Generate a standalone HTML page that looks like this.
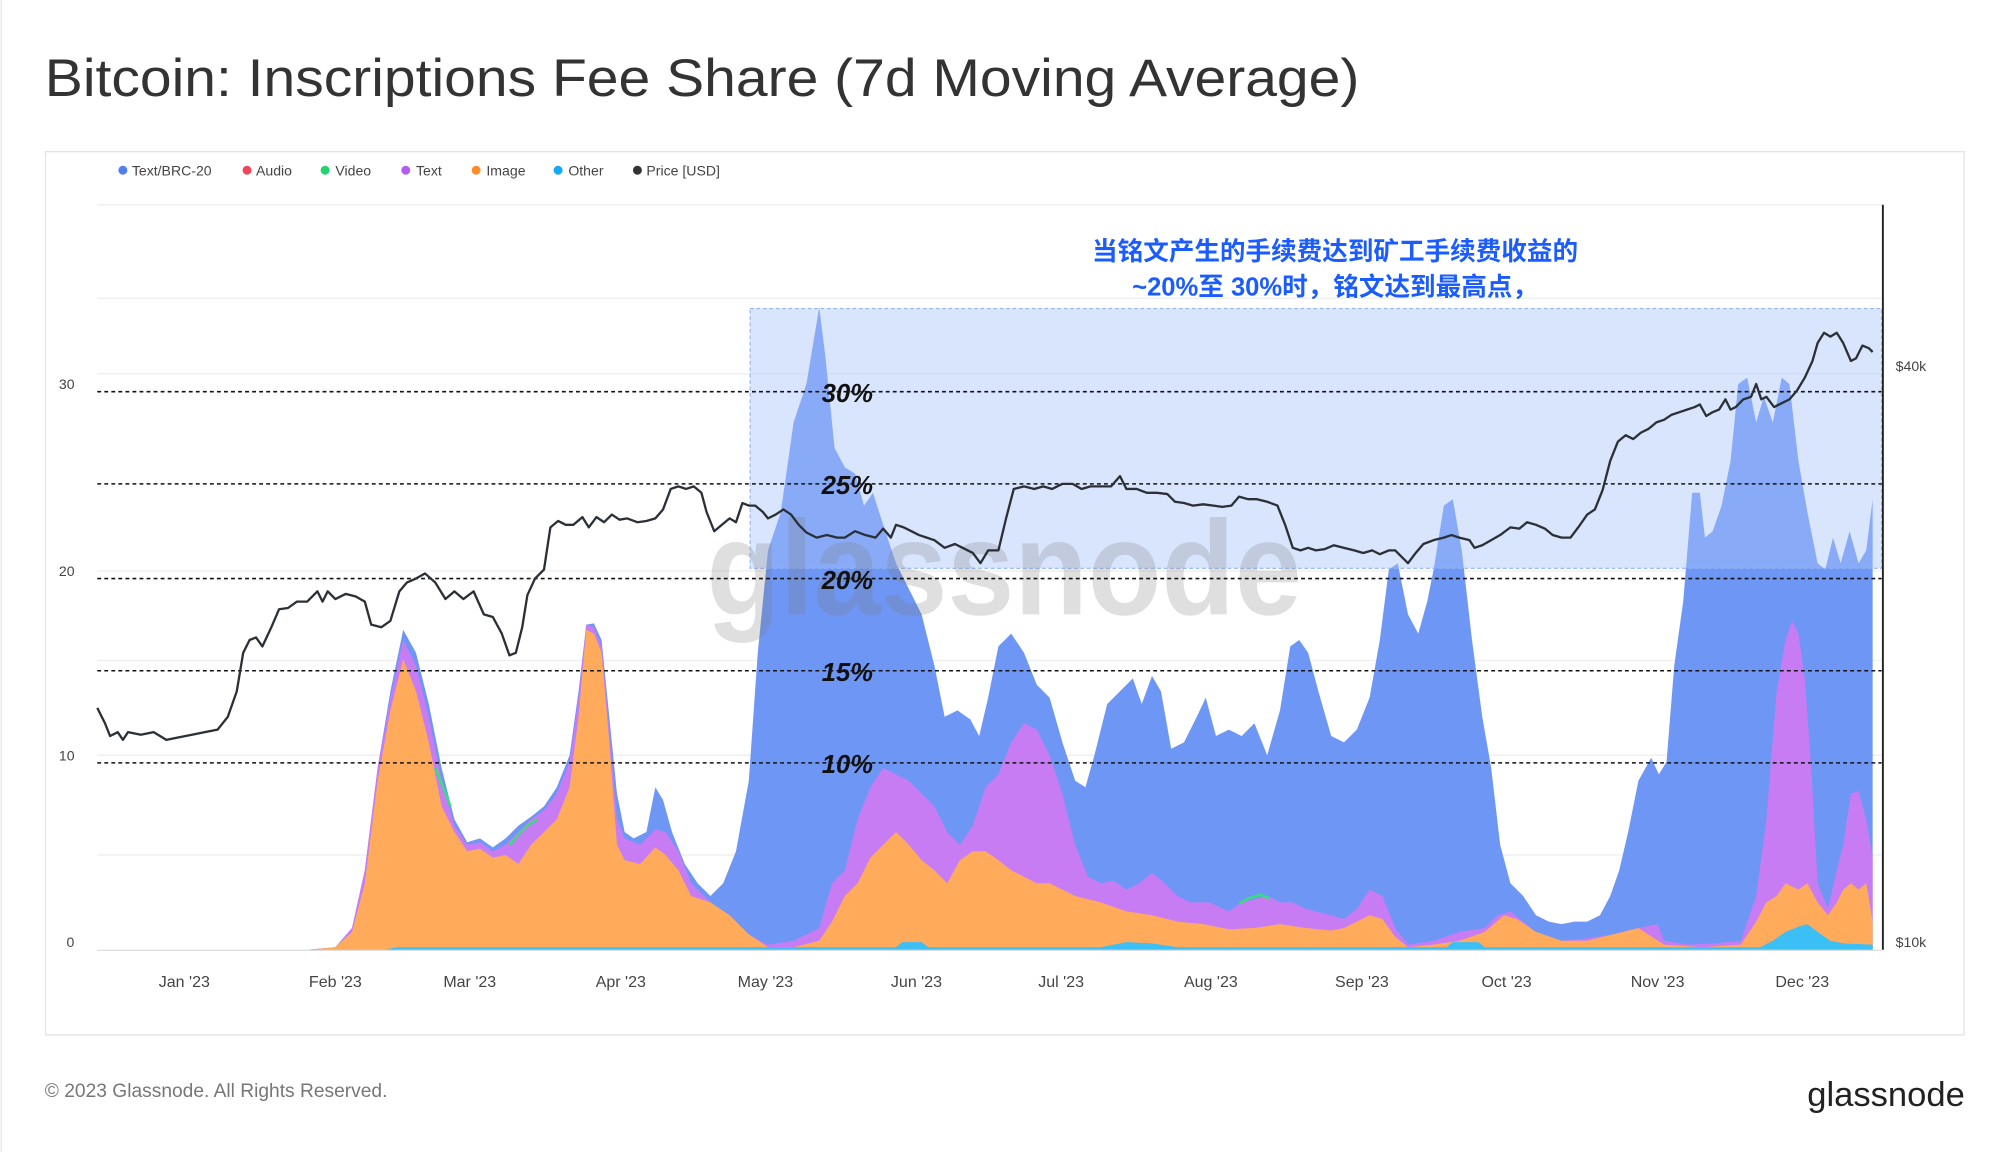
<!DOCTYPE html>
<html><head><meta charset="utf-8"><style>
html,body{margin:0;padding:0;background:#fff;}
svg{display:block;}
</style></head><body>
<svg width="2000" height="1152" viewBox="0 0 1562.5 900" preserveAspectRatio="none" xmlns="http://www.w3.org/2000/svg" font-family="Liberation Sans, sans-serif">
<rect x="0" y="0" width="1562.5" height="900" fill="#fff"/>
<line x1="1" y1="0" x2="1" y2="900" stroke="#e6e6e6"/>
<text x="35" y="75" font-size="41" fill="#333" textLength="1027" lengthAdjust="spacingAndGlyphs">Bitcoin: Inscriptions Fee Share (7d Moving Average)</text>
<rect x="35.5" y="118.5" width="1499" height="690" fill="#fff" stroke="#e3e3e3"/>
<g font-size="11" fill="#444">
<circle cx="96" cy="133" r="3.5" fill="#4f7ff0"/><text x="103" y="137">Text/BRC-20</text>
<circle cx="193" cy="133" r="3.5" fill="#f0455a"/><text x="200" y="137">Audio</text>
<circle cx="254" cy="133" r="3.5" fill="#22d36e"/><text x="262" y="137">Video</text>
<circle cx="317" cy="133" r="3.5" fill="#b55cf0"/><text x="325" y="137">Text</text>
<circle cx="372" cy="133" r="3.5" fill="#ff8c2a"/><text x="380" y="137">Image</text>
<circle cx="436" cy="133" r="3.5" fill="#14a8f5"/><text x="444" y="137">Other</text>
<circle cx="498" cy="133" r="3.5" fill="#333"/><text x="505" y="137">Price [USD]</text>
</g>
<g stroke="#eeeeee" stroke-width="1">
<line x1="76" y1="160" x2="1470" y2="160"/><line x1="76" y1="233" x2="1470" y2="233"/>
<line x1="76" y1="292" x2="1470" y2="292"/><line x1="76" y1="446" x2="1470" y2="446"/>
<line x1="76" y1="516" x2="1470" y2="516"/><line x1="76" y1="590" x2="1470" y2="590"/>
<line x1="76" y1="668" x2="1470" y2="668"/>
</g>
<g font-size="11" fill="#444">
<text x="46" y="304">30</text><text x="46" y="450">20</text><text x="46" y="594">10</text><text x="52" y="740">0</text>
<text x="1481" y="290">$40k</text><text x="1481" y="740">$10k</text>
</g>
<polygon fill="#6e96f4" points="76,742 240,742 262,740 275,725 285,680 295,600 305,540 315,492 325,510 335,550 345,600 355,640 365,658 375,655 385,662 395,655 405,645 415,638 425,630 435,615 445,590 452,540 458,488 464,487 470,500 476,560 482,620 488,650 495,655 505,650 512,615 518,625 525,650 535,675 545,690 555,700 565,690 575,665 585,610 592,510 600,430 610,400 620,330 630,300 640,240 645,280 652,350 660,365 668,370 675,395 682,385 690,410 700,440 710,460 720,480 730,520 738,560 748,555 758,562 765,575 772,545 780,505 790,495 800,510 810,535 820,545 830,580 840,610 848,615 855,590 865,550 875,540 885,530 892,550 900,528 907,540 915,585 925,580 935,560 942,545 950,575 960,570 970,575 980,565 990,590 1000,555 1008,505 1015,500 1022,510 1030,540 1040,575 1050,580 1060,570 1070,545 1078,500 1085,445 1092,440 1100,480 1108,495 1115,470 1120,445 1128,395 1135,390 1142,430 1150,500 1158,560 1165,600 1172,660 1180,690 1190,700 1200,715 1210,720 1220,722 1230,720 1240,720 1250,715 1258,700 1265,680 1272,650 1280,610 1290,592 1296,605 1302,595 1308,520 1315,470 1322,385 1328,385 1332,420 1338,415 1345,395 1352,360 1358,300 1365,295 1372,330 1378,310 1385,330 1392,295 1398,300 1405,360 1412,400 1420,440 1426,445 1432,420 1438,440 1445,415 1452,440 1458,430 1463,390 1463,742"/>
<polygon fill="#c77cf3" points="76,742 240,742 262,740 275,725 285,680 295,600 305,545 315,500 325,520 335,560 345,610 355,645 365,660 375,658 385,665 395,660 405,650 415,640 425,633 435,620 445,595 452,545 458,488 464,490 470,505 476,570 482,640 488,655 500,660 512,648 520,650 530,665 540,690 555,705 570,715 585,730 600,738 620,735 640,725 650,690 660,680 670,640 680,615 690,600 700,605 710,610 720,620 730,630 740,650 750,660 760,645 770,615 780,605 790,580 800,565 810,570 820,590 830,620 840,660 850,685 860,690 870,688 880,695 890,690 900,682 910,690 920,700 930,705 945,705 960,712 970,705 990,700 1000,705 1010,705 1020,710 1040,715 1050,718 1060,710 1070,695 1080,700 1090,725 1100,738 1120,735 1140,728 1160,725 1170,715 1180,712 1190,720 1200,728 1210,733 1220,735 1240,733 1260,730 1280,725 1295,722 1300,735 1320,738 1340,737 1360,735 1372,700 1380,640 1388,540 1395,500 1400,485 1405,495 1410,530 1415,600 1420,690 1428,710 1435,680 1440,660 1446,620 1452,618 1458,640 1463,670 1463,742"/>
<g fill="none" stroke="#3cdc82" stroke-width="2">
<polyline points="340,600 345,612 352,630"/>
<polyline points="398,660 405,652 412,645 420,640"/>
<polyline points="968,706 975,702 985,699 992,702"/>
</g>
<polygon fill="#ffab5b" points="76,742 240,742 262,740 275,728 285,690 295,610 305,555 315,515 325,540 335,580 345,630 355,650 365,665 375,663 385,670 395,668 405,675 415,660 425,650 435,640 445,615 452,560 458,492 464,495 470,510 476,580 482,660 488,672 500,675 512,662 520,668 530,680 540,700 555,705 570,715 585,730 600,740 620,740 640,735 650,720 660,700 670,690 680,670 690,660 700,650 710,660 720,672 730,680 740,690 750,672 760,665 770,665 780,672 790,680 800,685 810,690 820,690 830,695 840,700 860,705 880,712 900,715 920,720 940,722 960,726 980,725 1000,722 1020,725 1040,727 1050,725 1060,720 1070,715 1080,718 1090,732 1100,740 1120,738 1140,735 1160,728 1175,715 1185,718 1200,728 1220,735 1240,735 1260,730 1280,725 1300,738 1330,740 1360,738 1372,720 1380,705 1388,700 1395,690 1405,695 1412,690 1420,705 1428,715 1435,705 1440,695 1446,690 1452,695 1458,690 1463,720 1463,742"/>
<polygon fill="#3bbff5" points="76,742 300,742 310,740 700,740 705,736 720,736 725,740 860,740 880,736 900,737 920,740 1130,740 1135,736 1155,736 1160,740 1375,740 1385,735 1395,728 1405,724 1412,722 1420,728 1430,735 1440,737 1463,738 1463,742"/>
<rect x="586" y="241" width="884" height="203" fill="rgba(170,198,250,0.45)" stroke="#8fb3f5" stroke-dasharray="3,2" stroke-width="0.8"/>
<text x="552" y="480" font-size="105" fill="rgba(120,120,120,0.24)" font-weight="bold" textLength="465" lengthAdjust="spacingAndGlyphs">glassnode</text>
<g stroke="#111" stroke-width="1.2" stroke-dasharray="3,2.5">
<line x1="76" y1="306" x2="1470" y2="306"/><line x1="76" y1="378" x2="1470" y2="378"/>
<line x1="76" y1="452" x2="1470" y2="452"/><line x1="76" y1="524" x2="1470" y2="524"/>
<line x1="76" y1="596" x2="1470" y2="596"/>
</g>
<polyline fill="none" stroke="#2b2f36" stroke-width="1.8" stroke-linejoin="round" points="76,553 82,565 86,575 92,572 96,578 100,572 110,574 120,572 130,578 140,576 150,574 160,572 170,570 178,560 185,540 190,510 195,500 200,498 205,505 212,490 218,476 225,475 232,470 240,470 248,462 252,470 256,462 262,468 270,464 278,466 285,470 290,488 298,490 305,485 312,462 318,455 325,452 332,448 340,455 348,468 355,462 362,468 370,462 378,480 385,482 392,495 398,512 403,510 408,490 412,465 418,452 425,445 430,412 436,407 442,410 448,410 455,404 460,412 466,404 472,408 478,402 484,406 490,405 498,408 505,407 512,405 518,398 524,382 530,380 536,382 542,380 548,385 552,400 558,415 564,410 570,405 575,408 580,393 585,395 590,395 596,400 600,405 606,402 612,398 618,402 624,410 630,416 638,420 646,418 654,420 660,420 668,415 676,418 684,420 690,413 696,420 700,410 706,412 712,415 718,418 724,420 730,422 738,428 746,425 752,428 760,432 766,440 772,430 780,430 786,405 792,382 800,380 808,382 815,380 822,382 830,378 838,378 845,382 852,380 860,380 868,380 875,372 880,382 888,382 896,385 904,385 912,386 918,392 925,393 932,395 940,394 948,395 955,396 962,395 968,388 975,390 982,390 990,392 998,395 1004,410 1010,428 1016,430 1022,428 1028,430 1035,429 1042,426 1050,428 1058,430 1065,432 1072,430 1078,433 1085,430 1090,430 1095,435 1100,440 1106,432 1112,425 1120,422 1128,420 1134,418 1140,420 1148,422 1152,428 1158,426 1165,422 1172,418 1180,412 1187,413 1193,408 1200,410 1207,413 1213,418 1220,420 1227,420 1233,412 1240,402 1246,398 1252,383 1258,360 1264,345 1270,340 1276,343 1282,338 1288,335 1294,330 1300,328 1306,324 1312,322 1318,320 1324,318 1328,316 1333,325 1338,322 1343,320 1348,312 1352,320 1356,318 1362,312 1368,310 1372,300 1376,312 1380,310 1386,318 1392,315 1398,312 1404,305 1410,295 1416,282 1420,268 1425,260 1430,263 1435,260 1440,268 1446,282 1450,280 1455,270 1460,272 1463,275"/>
<line x1="1471" y1="160" x2="1471" y2="742" stroke="#222" stroke-width="1.5"/>
<line x1="76" y1="742.5" x2="1470" y2="742.5" stroke="#ddd"/>
<g font-size="20" font-weight="bold" font-style="italic" fill="#111" text-anchor="middle">
<text x="662" y="314">30%</text><text x="662" y="386">25%</text><text x="662" y="460">20%</text><text x="662" y="532">15%</text><text x="662" y="604">10%</text>
</g>
<g font-size="20" font-weight="bold" fill="#1a5cff" text-anchor="middle" font-family="Liberation Sans, Noto Sans CJK SC, sans-serif">
<text x="1043" y="203">当铭文产生的手续费达到矿工手续费收益的</text>
<text x="1043" y="231">~20%至 30%时，铭文达到最高点，</text>
</g>
<g font-size="12.5" fill="#444" text-anchor="middle">
<text x="144" y="771">Jan '23</text><text x="262" y="771">Feb '23</text><text x="367" y="771">Mar '23</text>
<text x="485" y="771">Apr '23</text><text x="598" y="771">May '23</text><text x="716" y="771">Jun '23</text>
<text x="829" y="771">Jul '23</text><text x="946" y="771">Aug '23</text><text x="1064" y="771">Sep '23</text>
<text x="1177" y="771">Oct '23</text><text x="1295" y="771">Nov '23</text><text x="1408" y="771">Dec '23</text>
</g>
<text x="35" y="857" font-size="15" fill="#777">© 2023 Glassnode. All Rights Reserved.</text>
<text x="1535" y="864" font-size="27" fill="#222" text-anchor="end">glassnode</text>
</svg>
</body></html>
